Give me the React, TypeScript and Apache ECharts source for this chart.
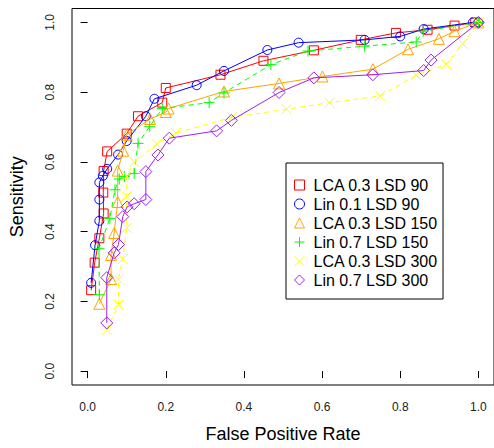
import React, { useEffect, useRef } from "react";
import * as echarts from "echarts";

const seriesNames = [
  "LCA 0.3 LSD 90",
  "Lin 0.1 LSD 90",
  "LCA 0.3 LSD 150",
  "Lin 0.7 LSD 150",
  "LCA 0.3 LSD 300",
  "Lin 0.7 LSD 300",
];

const lca03lsd90: [number, number][] = [
  [0.009, 0.232], [0.018, 0.311], [0.03, 0.381], [0.041, 0.452], [0.04, 0.512],
  [0.041, 0.574], [0.05, 0.63], [0.1, 0.681], [0.129, 0.731], [0.191, 0.77],
  [0.2, 0.812], [0.34, 0.85], [0.45, 0.89], [0.579, 0.92], [0.699, 0.95],
  [0.789, 0.97], [0.87, 0.979], [0.939, 0.991], [0.992, 1.0],
];

const lin01lsd90: [number, number][] = [
  [0.009, 0.253], [0.019, 0.361], [0.03, 0.431], [0.03, 0.492], [0.03, 0.541],
  [0.039, 0.56], [0.05, 0.58], [0.078, 0.621], [0.1, 0.66], [0.149, 0.731],
  [0.171, 0.781], [0.279, 0.82], [0.349, 0.861], [0.46, 0.921], [0.54, 0.942],
  [0.709, 0.95], [0.8, 0.96], [0.86, 0.981], [0.986, 1.0], [1.0, 1.0],
];

const lca03lsd150: [number, number][] = [
  [0.03, 0.193], [0.06, 0.264], [0.06, 0.333], [0.068, 0.396], [0.077, 0.485],
  [0.077, 0.575], [0.091, 0.632], [0.1, 0.678], [0.16, 0.723], [0.2, 0.743],
  [0.207, 0.753], [0.349, 0.802], [0.49, 0.825], [0.601, 0.845], [0.73, 0.866],
  [0.82, 0.923], [0.899, 0.953], [0.939, 0.975], [1.0, 1.0],
];

const lin07lsd150: [number, number][] = [
  [0.03, 0.219], [0.029, 0.351], [0.057, 0.438], [0.07, 0.52], [0.081, 0.551],
  [0.094, 0.558], [0.119, 0.567], [0.129, 0.653], [0.159, 0.702], [0.191, 0.753],
  [0.311, 0.77], [0.349, 0.798], [0.469, 0.879], [0.564, 0.918], [0.709, 0.932],
  [0.841, 0.944], [0.859, 0.975], [1.0, 1.0],
];

const lca03lsd300: [number, number][] = [
  [0.049, 0.118], [0.079, 0.191], [0.079, 0.263], [0.09, 0.321], [0.1, 0.411],
  [0.1, 0.501], [0.1, 0.56], [0.12, 0.6], [0.177, 0.651], [0.226, 0.683],
  [0.37, 0.728], [0.509, 0.751], [0.619, 0.77], [0.749, 0.789], [0.841, 0.849],
  [0.918, 0.88], [0.96, 0.939], [1.0, 1.0],
];

const lin07lsd300: [number, number][] = [
  [0.049, 0.138], [0.049, 0.268], [0.068, 0.339], [0.079, 0.363], [0.09, 0.443],
  [0.101, 0.471], [0.119, 0.48], [0.149, 0.492], [0.149, 0.572], [0.18, 0.62],
  [0.209, 0.668], [0.33, 0.689], [0.368, 0.719], [0.49, 0.799], [0.579, 0.841],
  [0.73, 0.85], [0.86, 0.862], [0.879, 0.892], [1.0, 1.0],
];

const xTicks = [0, 0.2, 0.4, 0.6, 0.8, 1.0];
const yTicks = [0, 0.2, 0.4, 0.6, 0.8, 1.0];

const PLUS = "path://M0,5L10,5M5,0L5,10";
const CROSS = "path://M0,0L10,10M0,10L10,0";

const styles = [
  { color: "#FF0000", symbol: "rect", size: 9, dash: "solid" as any },
  { color: "#0000FF", symbol: "circle", size: 9, dash: "solid" as any },
  { color: "#FFA500", symbol: "triangle", size: 11, dash: "solid" as any },
  { color: "#00FF00", symbol: PLUS, size: 11, dash: [5, 4] as any },
  { color: "#FFFF00", symbol: CROSS, size: 10, dash: [5, 4] as any },
  { color: "#A020F0", symbol: "diamond", size: 12, dash: "solid" as any },
];

const FONT = "'Liberation Sans', Arial, sans-serif";

export default function App() {
  const ref = useRef<HTMLDivElement>(null);
  useEffect(() => {
    if (!ref.current) return;
    const chart = echarts.init(ref.current, undefined, { renderer: "svg" });
    const allData = [lca03lsd90, lin01lsd90, lca03lsd150, lin07lsd150, lca03lsd300, lin07lsd300];
    const series = allData.map((d, i) => ({
      name: seriesNames[i],
      type: "line",
      data: d,
      symbol: styles[i].symbol,
      symbolSize: styles[i].size,
      showAllSymbol: true,
      lineStyle: { color: styles[i].color, width: 1, type: styles[i].dash },
      itemStyle: { color: "transparent", borderColor: styles[i].color, borderWidth: 1 },
      emphasis: { disabled: true },
      z: 2 + i,
    }));
    chart.setOption({
      animation: false,
      grid: {
        left: 71.5,
        top: 8.5,
        right: -4.1,
        bottom: 57.1,
        show: true,
        borderColor: "#000",
        borderWidth: 1,
        backgroundColor: "transparent",
      },
      xAxis: {
        type: "value",
        min: -0.04,
        max: 1.04,
        name: "False Positive Rate",
        nameLocation: "middle",
        nameGap: 40,
        nameTextStyle: { fontSize: 18, color: "#000", fontFamily: FONT, lineHeight: 18 },
        axisLine: { show: false },
        splitLine: { show: false },
        axisTick: { show: true, inside: false, length: 7, customValues: xTicks, lineStyle: { color: "#000" } },
        axisLabel: {
          customValues: xTicks,
          formatter: (v: number) => v.toFixed(1),
          fontSize: 12,
          color: "#222",
          fontFamily: FONT,
          margin: 16,
        },
      },
      yAxis: {
        type: "value",
        min: -0.04,
        max: 1.04,
        name: "Sensitivity",
        nameLocation: "middle",
        nameGap: 46,
        nameTextStyle: { fontSize: 18, color: "#000", fontFamily: FONT, lineHeight: 18 },
        axisLine: { show: false },
        splitLine: { show: false },
        axisTick: { show: true, inside: false, length: 7, customValues: yTicks, lineStyle: { color: "#000" } },
        axisLabel: {
          customValues: yTicks,
          formatter: (v: number) => v.toFixed(1),
          fontSize: 12,
          color: "#222",
          fontFamily: FONT,
          rotate: 90,
          margin: 16,
        },
      },
      legend: {
        orient: "vertical",
        left: 286,
        top: 163,
        padding: [14, 5, 11, 8],
        itemWidth: 10,
        itemHeight: 10,
        itemGap: 3,
        borderColor: "#000",
        borderWidth: 1,
        selectedMode: false,
        textStyle: { fontSize: 16, color: "#000", fontFamily: FONT, lineHeight: 16, padding: [0, 0, 0, 4] },
        data: seriesNames.map((n, i) => ({
          name: n,
          icon: styles[i].symbol,
          itemStyle: { color: "transparent", borderColor: styles[i].color, borderWidth: 1 },
        })),
      },
      series,
    });
    return () => chart.dispose();
  }, []);
  return (
    <div
      ref={ref}
      style={{ position: "absolute", left: 0, top: 0, width: 494, height: 448, background: "#fff" }}
    />
  );
}
